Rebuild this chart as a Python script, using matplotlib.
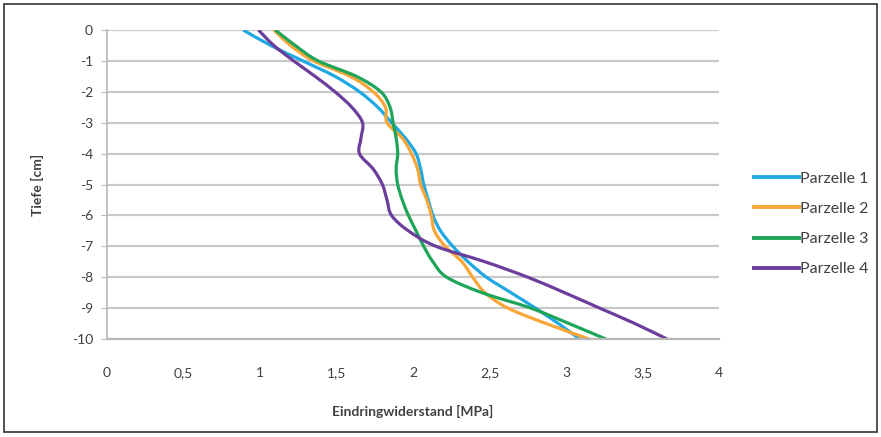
import matplotlib
matplotlib.use('Agg')
import matplotlib.pyplot as plt
from matplotlib.patches import Rectangle, PathPatch
from matplotlib.path import Path
from matplotlib.lines import Line2D
from matplotlib.ticker import FuncFormatter

plt.rcParams['font.family'] = ['Lato', 'DejaVu Sans']

# depth [cm]
tiefe = [0, -0.5, -1, -1.5, -2, -2.5, -3, -3.5, -4, -4.5, -5,
         -5.5, -6, -6.5, -7, -7.5, -8, -8.5, -9, -9.5, -10]

# penetration resistance [MPa]
parzelle1 = [0.89, 1.07, 1.28, 1.49, 1.65, 1.77, 1.86, 1.95, 2.02, 2.05, 2.07,
             2.10, 2.13, 2.18, 2.26, 2.36, 2.48, 2.64, 2.80, 2.95, 3.09]
parzelle2 = [1.09, 1.20, 1.35, 1.59, 1.74, 1.82, 1.83, 1.93, 1.99, 2.03, 2.05,
             2.09, 2.12, 2.14, 2.21, 2.32, 2.39, 2.47, 2.62, 2.87, 3.15]
parzelle3 = [1.10, 1.23, 1.38, 1.63, 1.79, 1.85, 1.87, 1.89, 1.90, 1.89, 1.90,
             1.93, 1.97, 2.02, 2.07, 2.13, 2.22, 2.45, 2.77, 3.02, 3.26]
parzelle4 = [0.99, 1.09, 1.22, 1.36, 1.49, 1.60, 1.67, 1.66, 1.65, 1.74, 1.80,
             1.83, 1.86, 1.97, 2.15, 2.47, 2.75, 2.99, 3.22, 3.45, 3.66]

series = [("Parzelle 1", parzelle1, "#1FA8E1"),
          ("Parzelle 2", parzelle2, "#F8A638"),
          ("Parzelle 3", parzelle3, "#1EA55A"),
          ("Parzelle 4", parzelle4, "#6B3E9C")]


def smooth_path(xs, ys, t=1/6.):
  # Excel-like smoothed line: bezier segments through every data point
  pts = list(zip(xs, ys))
  verts = [pts[0]]
  codes = [Path.MOVETO]
  for i in range(len(pts) - 1):
    p0 = pts[max(i - 1, 0)]
    p1 = pts[i]
    p2 = pts[i + 1]
    p3 = pts[min(i + 2, len(pts) - 1)]
    c1 = (p1[0] + (p2[0] - p0[0]) * t, p1[1] + (p2[1] - p0[1]) * t)
    c2 = (p2[0] - (p3[0] - p1[0]) * t, p2[1] - (p3[1] - p1[1]) * t)
    verts += [c1, c2, p2]
    codes += [Path.CURVE4] * 3
  return Path(verts, codes)


fig = plt.figure(figsize=(8.81, 4.37), dpi=100)
ax = fig.add_axes([107/881, 1 - 339/437, 612/881, 309/437])

handles = []
for name, vals, col in series:
  ax.add_patch(PathPatch(smooth_path(vals, tiefe), facecolor='none',
                         edgecolor=col, lw=2.3, capstyle='butt', joinstyle='round'))
  handles.append(Line2D([], [], color=col, lw=2.8, label=name))

ax.set_xlim(0, 4)
ax.set_ylim(-10, 0)
ax.set_xticks([0, 0.5, 1, 1.5, 2, 2.5, 3, 3.5, 4])
ax.set_yticks(range(-10, 1))
ax.xaxis.set_major_formatter(FuncFormatter(lambda v, p: ("%g" % v).replace(".", ",")))
ax.yaxis.set_major_formatter(FuncFormatter(lambda v, p: "%d" % v))

ax.grid(axis='y', color='#c9c9c9', lw=1.6)
ax.set_axisbelow(True)
for s in ['top', 'right']:
  ax.spines[s].set_visible(False)
ax.spines['left'].set_color('#b8b8b8')
ax.spines['bottom'].set_color('#b8b8b8')
ax.spines['left'].set_linewidth(1.2)
ax.spines['bottom'].set_linewidth(1.6)
ax.tick_params(axis='y', length=4, color='#b8b8b8', labelsize=10, labelcolor='#404040', pad=6)
ax.tick_params(axis='x', length=0, labelsize=10, labelcolor='#404040', pad=20)

ax.set_xlabel("Eindringwiderstand [MPa]", fontsize=10, fontweight='bold', color='#404040', labelpad=19)
ax.set_ylabel("Tiefe [cm]", fontsize=10, fontweight='bold', color='#404040', labelpad=20)

leg = ax.legend(handles=handles, loc='center left', bbox_to_anchor=(754/881, 1 - 224/437),
                bbox_transform=fig.transFigure, frameon=False, fontsize=11.5,
                handlelength=2.8, handletextpad=0.1, labelspacing=1.0,
                borderaxespad=0, borderpad=0)
for t in leg.get_texts():
  t.set_color('#404040')

fig.add_artist(Rectangle((4/881, 1 - 432/437), 873/881, 428/437,
                         transform=fig.transFigure, fill=False,
                         edgecolor='#333333', lw=1.2))

fig.savefig("out.png", dpi=100)
